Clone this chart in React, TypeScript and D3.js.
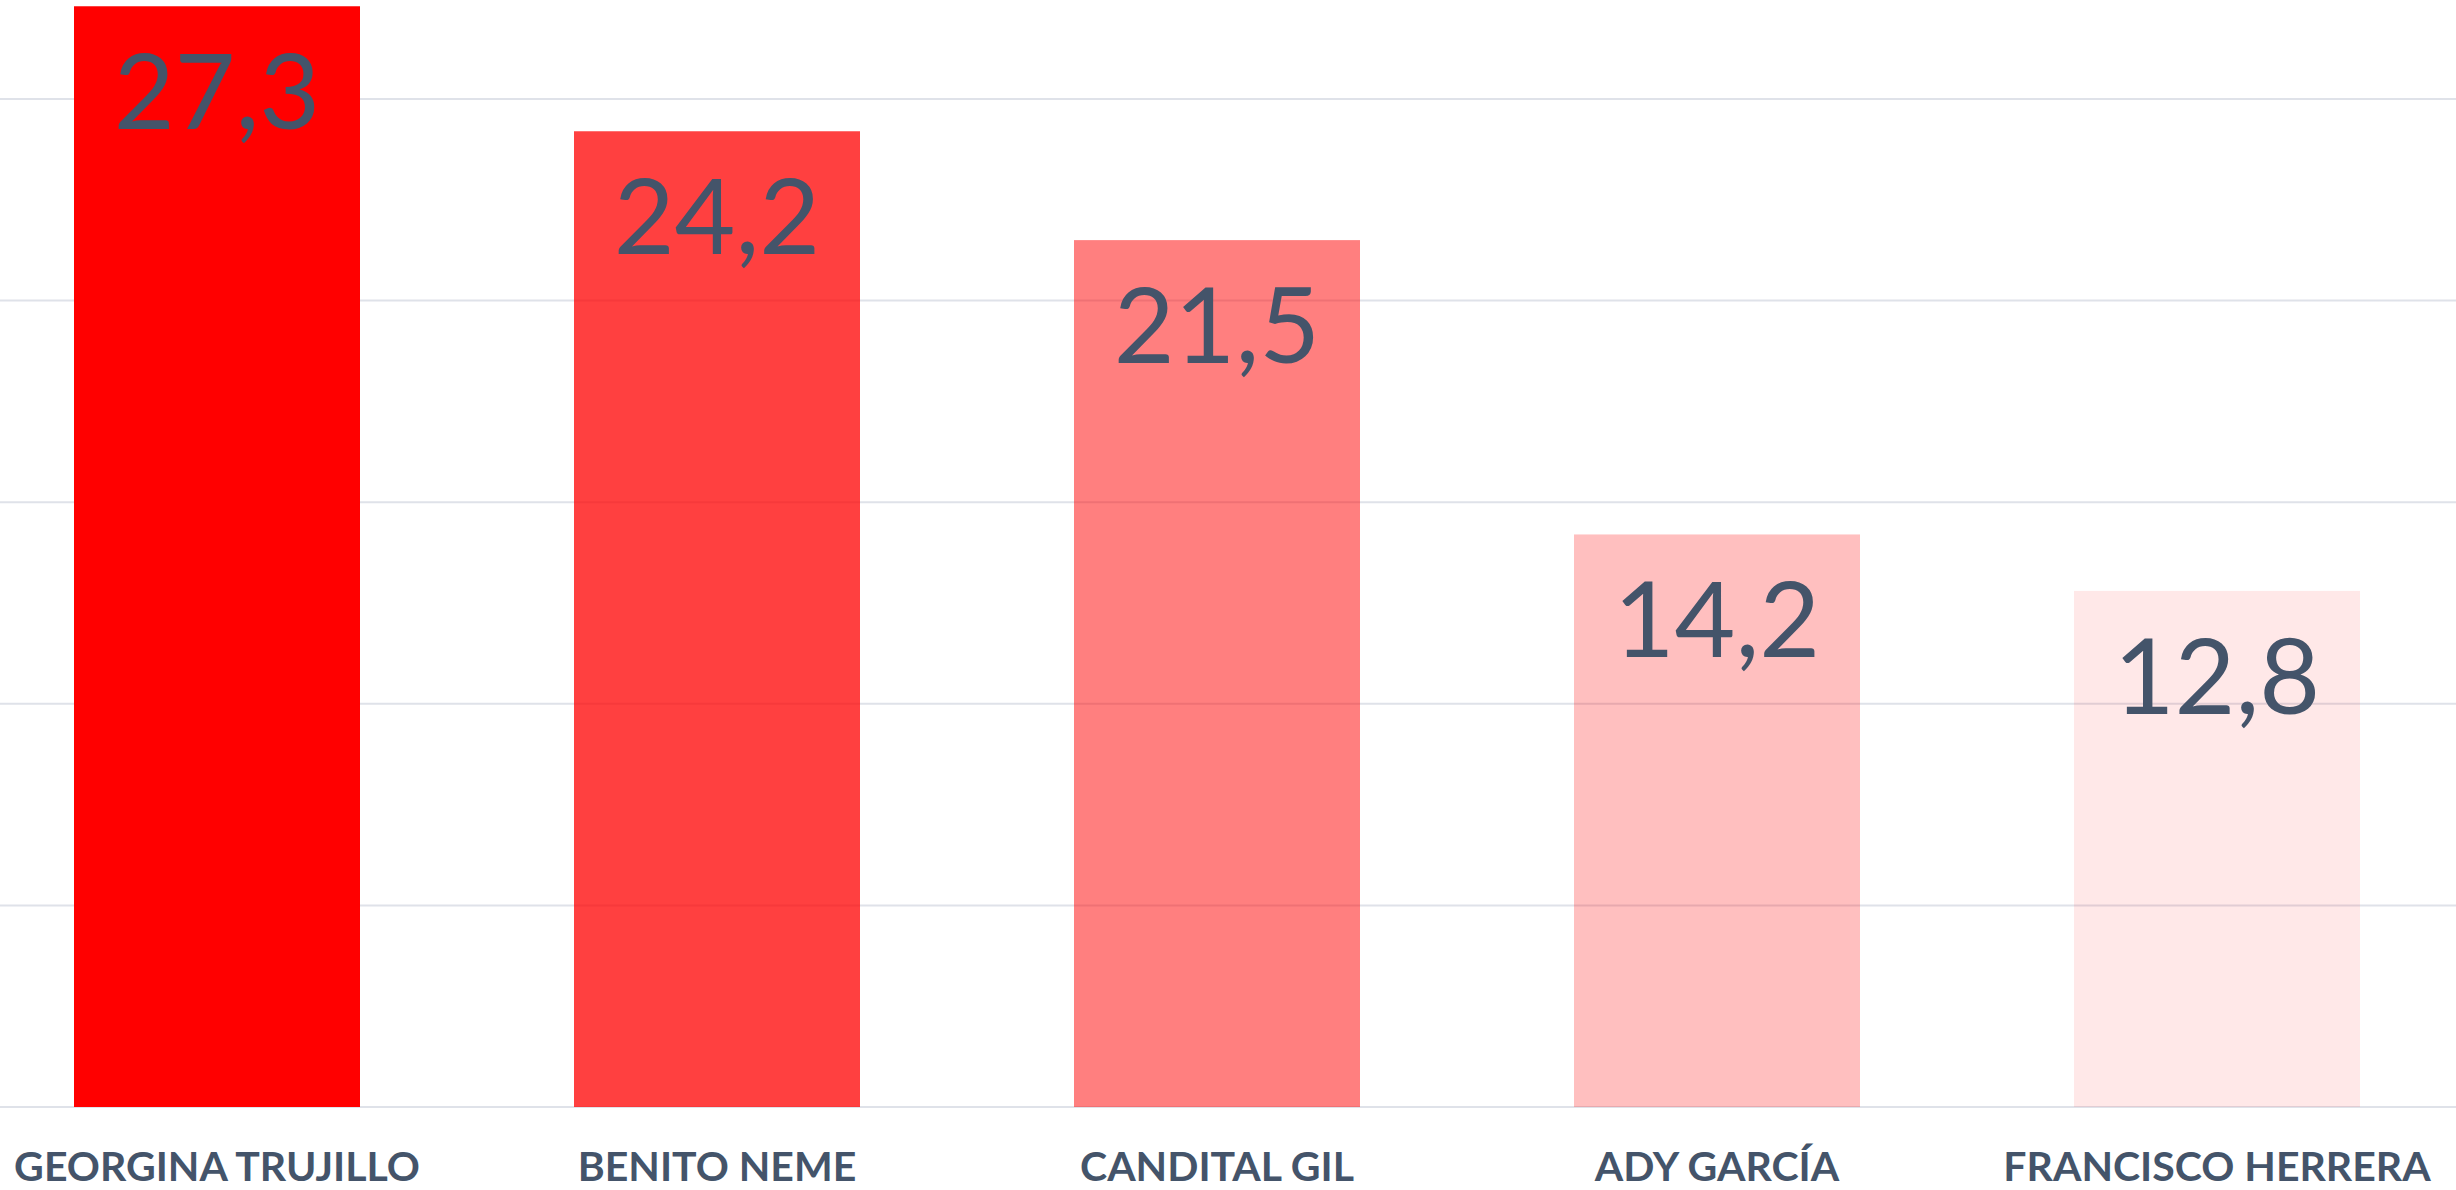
import { useRef, useEffect } from "react";
import * as d3 from "d3";

const categories = [
  "GEORGINA TRUJILLO",
  "BENITO NEME",
  "CANDITAL GIL",
  "ADY GARCÍA",
  "FRANCISCO HERRERA",
];
const values = [27.3, 24.2, 21.5, 14.2, 12.8];
const valueLabels = ["27,3", "24,2", "21,5", "14,2", "12,8"];
const barOpacity = [1, 0.75, 0.5, 0.25, 0.09];
const gridTicks = [0, 5, 10, 15, 20, 25];

const App = () => {
  const svgRef = useRef<SVGSVGElement>(null);
  const width = 2456;
  const height = 1190;

  useEffect(() => {
    if (!svgRef.current) {
      return;
    }
    const svg = d3.select(svgRef.current);
    svg.selectAll("*").remove();

    // chart is cropped on both sides, so the band range runs past the edges
    const x = d3
      .scaleBand<string>()
      .domain(categories)
      .range([-33, 2467])
      .paddingInner(0.428)
      .paddingOuter(0.214);

    const y = d3.scaleLinear().domain([0, 25]).range([1107, 99]);

    svg
      .append("g")
      .selectAll("line")
      .data(gridTicks)
      .enter()
      .append("line")
      .attr("x1", 0)
      .attr("x2", width)
      .attr("y1", (d) => y(d))
      .attr("y2", (d) => y(d))
      .attr("stroke", "#dfe2e9")
      .attr("stroke-width", 2);

    svg
      .append("g")
      .selectAll("rect")
      .data(values)
      .enter()
      .append("rect")
      .attr("x", (_, i) => x(categories[i]) ?? 0)
      .attr("width", x.bandwidth())
      .attr("y", (d) => y(d))
      .attr("height", (d) => y(0) - y(d))
      .attr("fill", "#ff0000")
      .attr("fill-opacity", (_, i) => barOpacity[i]);

    svg
      .append("g")
      .selectAll("text")
      .data(values)
      .enter()
      .append("text")
      .attr("x", (_, i) => (x(categories[i]) ?? 0) + x.bandwidth() / 2)
      .attr("y", (d) => y(d) + 123)
      .attr("text-anchor", "middle")
      .attr("font-family", "Lato, sans-serif")
      .attr("font-size", 105)
      .attr("fill", "#44546a")
      .text((_, i) => valueLabels[i]);

    svg
      .append("g")
      .selectAll("text")
      .data(categories)
      .enter()
      .append("text")
      .attr("x", (d) => (x(d) ?? 0) + x.bandwidth() / 2)
      .attr("y", 1181)
      .attr("text-anchor", "middle")
      .attr("font-family", "Lato, sans-serif")
      .attr("font-weight", "bold")
      .attr("font-size", 41)
      .attr("fill", "#44546a")
      .text((d) => d);
  }, []);

  return (
    <svg
      ref={svgRef}
      width={width}
      height={height}
      style={{ position: "absolute", left: 0, top: 0, background: "#fff" }}
    />
  );
};

export default App;
